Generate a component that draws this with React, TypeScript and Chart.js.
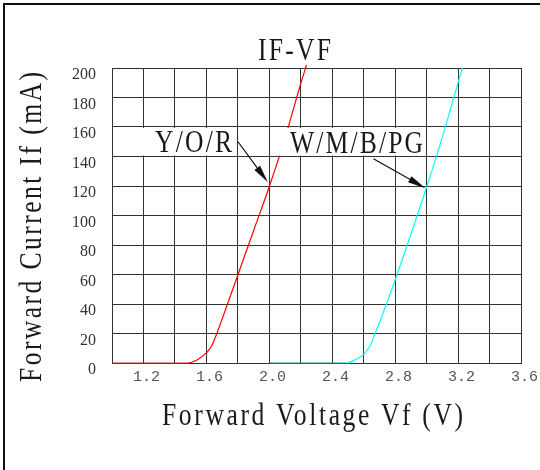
import React, { useEffect, useRef } from 'react';
import { Chart, registerables } from 'chart.js';

Chart.register(...registerables);

// Forward voltage (V) and forward current (mA)
const redVoltage = [1.0, 1.48, 1.54, 1.6, 1.63, 1.66, 1.7, 1.8, 1.9, 2.0, 2.1, 2.2, 2.235];
const redCurrent = [0, 0, 2, 7, 11, 18.5, 30, 60, 90, 120, 153, 190, 202];
const cyanVoltage = [2.0, 2.49, 2.55, 2.6, 2.64, 2.67, 2.7, 2.8, 2.9, 3.0, 3.1, 3.2, 3.225];
const cyanCurrent = [0, 0, 2.5, 6, 12, 20, 28, 57, 88, 120, 154, 191, 200];

const xTickLabels = ['1.2', '1.6', '2.0', '2.4', '2.8', '3.2', '3.6'];
const seriesNames = ['Y/O/R', 'W/M/B/PG'];
const chartTitle = 'IF-VF';
const xTitle = 'Forward Voltage Vf (V)';
const yTitle = 'Forward Current If (mA)';

const SERIF = '"Liberation Serif", "Times New Roman", serif';

// draws text between x0 and x1 with condensed glyphs (horizontal scale sx) and letter spacing filling the rest
function fitText(ctx: CanvasRenderingContext2D, text: string, x0: number, x1: number, baseline: number, size: number, sx = 0.8) {
  ctx.save();
  ctx.font = `${size}px ${SERIF}`;
  (ctx as any).letterSpacing = '0px';
  const w0 = ctx.measureText(text).width;
  const n = Math.max(1, text.length - 1);
  let ls = ((x1 - x0) / sx - w0) / n;
  if (ls < 0) ls = 0;
  (ctx as any).letterSpacing = `${ls}px`;
  const w = ctx.measureText(text).width - ls;
  ctx.translate(x0, baseline);
  ctx.scale((x1 - x0) / w, 1);
  ctx.textAlign = 'left';
  ctx.textBaseline = 'alphabetic';
  ctx.fillText(text, 0, 0);
  ctx.restore();
}

function arrow(ctx: CanvasRenderingContext2D, x0: number, y0: number, x1: number, y1: number) {
  const ang = Math.atan2(y1 - y0, x1 - x0);
  const len = 18;
  const half = 3.5;
  const bx = x1 - len * Math.cos(ang);
  const by = y1 - len * Math.sin(ang);
  ctx.beginPath();
  ctx.moveTo(x0, y0);
  ctx.lineTo(bx, by);
  ctx.lineWidth = 1.2;
  ctx.strokeStyle = '#111';
  ctx.stroke();
  ctx.beginPath();
  ctx.moveTo(x1, y1);
  ctx.lineTo(bx + half * Math.sin(ang), by - half * Math.cos(ang));
  ctx.lineTo(bx - half * Math.sin(ang), by + half * Math.cos(ang));
  ctx.closePath();
  ctx.fillStyle = '#111';
  ctx.fill();
}

const overlayPlugin = {
  id: 'overlay',
  afterDatasetsDraw(chart: any) {
    const { ctx, scales } = chart;
    const x = scales.x;
    const y = scales.y;
    ctx.save();
    ctx.fillStyle = '#fff';
    const box = (v0: number, v1: number, i0: number, i1: number) => {
      const l = x.getPixelForValue(v0) + 1;
      const r = x.getPixelForValue(v1) - 1;
      const t = y.getPixelForValue(i1) + 1;
      const b = y.getPixelForValue(i0) - 1;
      ctx.fillRect(l, t, r - l, b - t);
    };
    box(1.0, 1.8, 140, 160);
    box(2.0, 3.0, 140, 160);
    ctx.fillStyle = '#1a1a1a';
    fitText(ctx, seriesNames[0], 155, 232, 151.5, 32);
    fitText(ctx, seriesNames[1], 290, 423, 153, 32);
    arrow(ctx, x.getPixelForValue(1.8), y.getPixelForValue(150), x.getPixelForValue(1.99), y.getPixelForValue(122.5));
    arrow(ctx, x.getPixelForValue(2.66), y.getPixelForValue(138.5), x.getPixelForValue(2.99), y.getPixelForValue(118.5));
    ctx.restore();
  },
  afterDraw(chart: any) {
    const { ctx } = chart;
    ctx.save();
    ctx.fillStyle = '#1a1a1a';
    fitText(ctx, chartTitle, 258, 331, 60, 32);
    fitText(ctx, xTitle, 162, 463, 425, 32);
    ctx.save();
    ctx.translate(41, 382);
    ctx.rotate(-Math.PI / 2);
    fitText(ctx, yTitle, 0, 310, 0, 32);
    ctx.restore();
    // figure frame
    ctx.fillStyle = '#111';
    ctx.fillRect(3, 3, 540, 2);
    ctx.fillRect(3, 3, 2, 470);
    ctx.restore();
  },
};

export default function App() {
  const ref = useRef<HTMLCanvasElement | null>(null);
  useEffect(() => {
    if (!ref.current) return;
    const flatColor = (c: string) => (ctx: any) =>
      ctx.p0.parsed.y === 0 && ctx.p1.parsed.y === 0 ? c : undefined;
    const chart = new Chart(ref.current, {
      type: 'line',
      data: {
        datasets: [
          {
            label: seriesNames[0],
            data: redVoltage.map((v, i) => ({ x: v, y: redCurrent[i] })),
            borderColor: '#ff0000',
            borderWidth: 1.2,
            pointRadius: 0,
            cubicInterpolationMode: 'monotone',
            clip: false as any,
            segment: { borderColor: flatColor('#b83030') },
          },
          {
            label: seriesNames[1],
            data: cyanVoltage.map((v, i) => ({ x: v, y: cyanCurrent[i] })),
            borderColor: '#00ffff',
            borderWidth: 1.2,
            pointRadius: 0,
            cubicInterpolationMode: 'monotone',
            clip: false as any,
            segment: { borderColor: flatColor('#1a9a9a') },
          },
        ],
      },
      options: {
        responsive: false,
        animation: false,
        layout: { padding: { top: 68, right: 17, left: 0, bottom: 0 } },
        plugins: { legend: { display: false }, tooltip: { enabled: false }, title: { display: false } },
        scales: {
          x: {
            type: 'linear',
            min: 1.0,
            max: 3.6,
            afterFit: (s: any) => { s.height = 107; },
            grid: { color: '#333', lineWidth: 1, drawTicks: false },
            border: { color: '#333', width: 1 },
            ticks: {
              stepSize: 0.2,
              autoSkip: false,
              maxRotation: 0,
              padding: 5,
              labelOffset: 3,
              color: '#555',
              font: { family: '"Liberation Mono", monospace', size: 15 },
              callback: (value: any) => {
                const v = Number(value);
                const hit = xTickLabels.find((l) => Math.abs(parseFloat(l) - v) < 1e-6);
                return hit ?? '';
              },
            },
          },
          y: {
            type: 'linear',
            min: 0,
            max: 200,
            afterFit: (s: any) => { s.width = 112; },
            grid: { color: '#333', lineWidth: 1, drawTicks: false },
            border: { color: '#333', width: 1 },
            ticks: {
              stepSize: 20,
              padding: 16,
              labelOffset: 7,
              color: '#333',
              font: { family: SERIF, size: 16 },
            },
          },
        },
      },
      plugins: [overlayPlugin],
    });
    return () => chart.destroy();
  }, []);
  return (
    <div style={{ position: 'absolute', left: 0, top: 0, width: 540, height: 470, background: '#fff' }}>
      <canvas ref={ref} width={540} height={470} style={{ display: 'block' }} />
    </div>
  );
}
